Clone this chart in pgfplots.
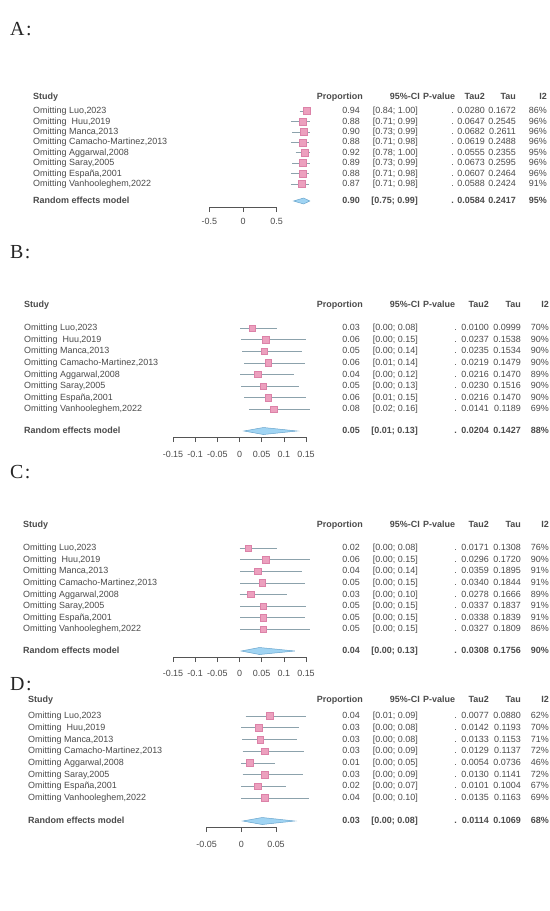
\documentclass[border=0pt]{standalone}
\usepackage{pgfplots}
\pgfplotsset{compat=1.18}
\usepackage{fontspec}
\setmainfont{Liberation Sans}
\newfontfamily\seriffont{Liberation Serif}
\definecolor{txt}{RGB}{75,75,75}
\definecolor{sqc}{RGB}{236,160,190}
\definecolor{sqd}{RGB}{220,130,168}
\definecolor{cic}{RGB}{140,162,172}
\definecolor{diaf}{RGB}{160,212,243}
\definecolor{diad}{RGB}{105,165,205}
\definecolor{axc}{RGB}{85,85,85}
\newcommand\tf{\fontsize{9.0}{10}\selectfont}
\def\nX{24}\def\dX{457}\def\tA{489}\def\tB{521}\def\tC{549}
\newcommand\rw[7]{%
 \node[anchor=mid west] at (\nX bp,-#1bp) {#2};
 \node[anchor=mid east] at (360bp,-#1bp) {#3};
 \node[anchor=mid east] at (418bp,-#1bp) {#4};
 \node[anchor=mid east] at (\dX bp,-#1bp) {.};
 \node[anchor=mid east] at (\tA bp,-#1bp) {#5};
 \node[anchor=mid east] at (\tB bp,-#1bp) {#6};
 \node[anchor=mid east] at (\tC bp,-#1bp) {#7\%};}
\newcommand\hd[1]{%
 \node[anchor=mid west] at (\nX bp,-#1bp) {\bfseries Study};
 \node[anchor=mid east] at (363bp,-#1bp) {\bfseries Proportion};
 \node[anchor=mid east] at (420bp,-#1bp) {\bfseries 95\%-CI};
 \node[anchor=mid west] at (423bp,-#1bp) {\bfseries P-value};
 \node[anchor=mid east] at (\tA bp,-#1bp) {\bfseries Tau2};
 \node[anchor=mid east] at (\tB bp,-#1bp) {\bfseries Tau};
 \node[anchor=mid east] at (\tC bp,-#1bp) {\bfseries I2};}
\newcommand\lab[2]{\node[anchor=mid west, font=\seriffont\fontsize{20}{20}\selectfont, text=black!85] at (10bp,-#1bp) {#2\hspace{1.5bp}:};}
\newcommand\ci[3]{\addplot[cic, line width=0.6pt] coordinates {(#2,#1) (#3,#1)};}
\newcommand\tl[3]{\node[anchor=mid] at (axis cs:#1,#2) {#3};}
\pgfplotsset{fp/.style={scale only axis, anchor=south west, clip=false, hide y axis,
  axis x line*=bottom, tick align=outside, major tick length=5bp, xticklabels={},
  scaled ticks=false,
  axis line style={axc, line width=0.6pt}, tick style={axc, line width=0.6pt}},
  sq/.style={only marks, mark=square*, mark size=#1, mark options={fill=sqc, draw=sqd, line width=0.3pt}},
  dm/.style={fill=diaf, draw=diad, line width=0.5pt}}
\begin{document}
\begin{tikzpicture}
\useasboundingbox (0,0) rectangle (550bp,-911bp);
\fill[white] (0,0) rectangle (550bp,-911bp);
\begin{scope}[every node/.style={inner sep=0pt, font=\tf, text=txt}]
% ---------------- Panel A ----------------
\lab{33}{A}
\def\nX{33}\def\dX{454}\def\tA{485}\def\tB{516}\def\tC{547}
\hd{97}
\rw{111}{Omitting Luo,2023}{0.94}{[0.84; 1.00]}{0.0280}{0.1672}{86}
\rw{121.4}{Omitting~ Huu,2019}{0.88}{[0.71; 0.99]}{0.0647}{0.2545}{96}
\rw{131.8}{Omitting Manca,2013}{0.90}{[0.73; 0.99]}{0.0682}{0.2611}{96}
\rw{142.2}{Omitting Camacho-Martinez,2013}{0.88}{[0.71; 0.98]}{0.0619}{0.2488}{96}
\rw{152.6}{Omitting Aggarwal,2008}{0.92}{[0.78; 1.00]}{0.0555}{0.2355}{95}
\rw{163}{Omitting Saray,2005}{0.89}{[0.73; 0.99]}{0.0673}{0.2595}{96}
\rw{173.4}{Omitting España,2001}{0.88}{[0.71; 0.98]}{0.0607}{0.2464}{96}
\rw{183.8}{Omitting Vanhooleghem,2022}{0.87}{[0.71; 0.98]}{0.0588}{0.2424}{91}
\begingroup\bfseries\rw{201}{Random effects model}{0.90}{[0.75; 0.99]}{0.0584}{0.2417}{95}\endgroup
\begin{axis}[fp, at={(209.3bp,-207bp)}, width=67.4bp, height=110bp,
  xmin=-0.5, xmax=0.5, ymin=-207, ymax=-97, xtick={-0.5,0,0.5}]
\ci{-111}{0.84}{1.00}
\ci{-121.4}{0.71}{0.99}
\ci{-131.8}{0.73}{0.99}
\ci{-142.2}{0.71}{0.98}
\ci{-152.6}{0.78}{1.00}
\ci{-163}{0.73}{0.99}
\ci{-173.4}{0.71}{0.98}
\ci{-183.8}{0.71}{0.98}
\addplot[sq=3.5bp] coordinates {(0.94,-111) (0.88,-121.4) (0.90,-131.8) (0.88,-142.2) (0.92,-152.6) (0.89,-163) (0.88,-173.4) (0.87,-183.8)};
\addplot[dm] coordinates {(0.75,-201) (0.90,-198) (0.99,-201) (0.90,-204)} -- cycle;
\tl{-0.5}{-222}{-0.5}\tl{0}{-222}{0}\tl{0.5}{-222}{0.5}
\end{axis}
% ---------------- Panel B ----------------
\lab{256}{B}
\def\nX{24}\def\dX{457}\def\tA{489}\def\tB{521}\def\tC{549}
\hd{305}
\rw{328}{Omitting Luo,2023}{0.03}{[0.00; 0.08]}{0.0100}{0.0999}{70}
\rw{339.6}{Omitting~ Huu,2019}{0.06}{[0.00; 0.15]}{0.0237}{0.1538}{90}
\rw{351.2}{Omitting Manca,2013}{0.05}{[0.00; 0.14]}{0.0235}{0.1534}{90}
\rw{362.8}{Omitting Camacho-Martinez,2013}{0.06}{[0.01; 0.14]}{0.0219}{0.1479}{90}
\rw{374.4}{Omitting Aggarwal,2008}{0.04}{[0.00; 0.12]}{0.0216}{0.1470}{89}
\rw{386}{Omitting Saray,2005}{0.05}{[0.00; 0.13]}{0.0230}{0.1516}{90}
\rw{397.6}{Omitting España,2001}{0.06}{[0.01; 0.15]}{0.0216}{0.1470}{90}
\rw{409.2}{Omitting Vanhooleghem,2022}{0.08}{[0.02; 0.16]}{0.0141}{0.1189}{69}
\begingroup\bfseries\rw{431}{Random effects model}{0.05}{[0.01; 0.13]}{0.0204}{0.1427}{88}\endgroup
\begin{axis}[fp, at={(173bp,-437bp)}, width=133bp, height=132bp,
  xmin=-0.15, xmax=0.15, ymin=-437, ymax=-305, xtick={-0.15,-0.1,-0.05,0,0.05,0.1,0.15}]
\ci{-328}{0.002}{0.084}
\ci{-339.6}{0.004}{0.149}
\ci{-351.2}{0.006}{0.141}
\ci{-362.8}{0.011}{0.147}
\ci{-374.4}{0.002}{0.122}
\ci{-386}{0.004}{0.134}
\ci{-397.6}{0.011}{0.149}
\ci{-409.2}{0.021}{0.159}
\addplot[sq=3.2bp] coordinates {(0.029,-328) (0.059,-339.6) (0.055,-351.2) (0.064,-362.8) (0.041,-374.4) (0.053,-386) (0.064,-397.6) (0.077,-409.2)};
\addplot[dm] coordinates {(0.01,-431) (0.054,-427.5) (0.13,-431) (0.054,-434.5)} -- cycle;
\tl{-0.15}{-455}{-0.15}\tl{-0.1}{-455}{-0.1}\tl{-0.05}{-455}{-0.05}\tl{0}{-455}{0}
\tl{0.05}{-455}{0.05}\tl{0.1}{-455}{0.1}\tl{0.15}{-455}{0.15}
\end{axis}
% ---------------- Panel C ----------------
\lab{476}{C}
\def\nX{23}
\hd{525}
\rw{548}{Omitting Luo,2023}{0.02}{[0.00; 0.08]}{0.0171}{0.1308}{76}
\rw{559.6}{Omitting~ Huu,2019}{0.06}{[0.00; 0.15]}{0.0296}{0.1720}{90}
\rw{571.2}{Omitting Manca,2013}{0.04}{[0.00; 0.14]}{0.0359}{0.1895}{91}
\rw{582.8}{Omitting Camacho-Martinez,2013}{0.05}{[0.00; 0.15]}{0.0340}{0.1844}{91}
\rw{594.4}{Omitting Aggarwal,2008}{0.03}{[0.00; 0.10]}{0.0278}{0.1666}{89}
\rw{606}{Omitting Saray,2005}{0.05}{[0.00; 0.15]}{0.0337}{0.1837}{91}
\rw{617.6}{Omitting España,2001}{0.05}{[0.00; 0.15]}{0.0338}{0.1839}{91}
\rw{629.2}{Omitting Vanhooleghem,2022}{0.05}{[0.00; 0.15]}{0.0327}{0.1809}{86}
\begingroup\bfseries\rw{651}{Random effects model}{0.04}{[0.00; 0.13]}{0.0308}{0.1756}{90}\endgroup
\begin{axis}[fp, at={(173bp,-657bp)}, width=133bp, height=132bp,
  xmin=-0.15, xmax=0.15, ymin=-657, ymax=-525, xtick={-0.15,-0.1,-0.05,0,0.05,0.1,0.15}]
\ci{-548}{0.000}{0.084}
\ci{-559.6}{0.002}{0.159}
\ci{-571.2}{0.002}{0.141}
\ci{-582.8}{0.002}{0.148}
\ci{-594.4}{0.000}{0.108}
\ci{-606}{0.002}{0.150}
\ci{-617.6}{0.002}{0.148}
\ci{-629.2}{0.002}{0.159}
\addplot[sq=3.2bp] coordinates {(0.019,-548) (0.059,-559.6) (0.041,-571.2) (0.051,-582.8) (0.025,-594.4) (0.053,-606) (0.053,-617.6) (0.053,-629.2)};
\addplot[dm] coordinates {(0.004,-651) (0.045,-647.5) (0.125,-651) (0.045,-654.5)} -- cycle;
\tl{-0.15}{-674}{-0.15}\tl{-0.1}{-674}{-0.1}\tl{-0.05}{-674}{-0.05}\tl{0}{-674}{0}
\tl{0.05}{-674}{0.05}\tl{0.1}{-674}{0.1}\tl{0.15}{-674}{0.15}
\end{axis}
% ---------------- Panel D ----------------
\lab{688}{D}
\def\nX{28}
\hd{700}
\rw{716}{Omitting Luo,2023}{0.04}{[0.01; 0.09]}{0.0077}{0.0880}{62}
\rw{727.7}{Omitting~ Huu,2019}{0.03}{[0.00; 0.08]}{0.0142}{0.1193}{70}
\rw{739.4}{Omitting Manca,2013}{0.03}{[0.00; 0.08]}{0.0133}{0.1153}{71}
\rw{751.1}{Omitting Camacho-Martinez,2013}{0.03}{[0.00; 0.09]}{0.0129}{0.1137}{72}
\rw{762.8}{Omitting Aggarwal,2008}{0.01}{[0.00; 0.05]}{0.0054}{0.0736}{46}
\rw{774.5}{Omitting Saray,2005}{0.03}{[0.00; 0.09]}{0.0130}{0.1141}{72}
\rw{786.2}{Omitting España,2001}{0.02}{[0.00; 0.07]}{0.0101}{0.1004}{67}
\rw{797.9}{Omitting Vanhooleghem,2022}{0.04}{[0.00; 0.10]}{0.0135}{0.1163}{69}
\begingroup\bfseries\rw{821}{Random effects model}{0.03}{[0.00; 0.08]}{0.0114}{0.1069}{68}\endgroup
\begin{axis}[fp, at={(206.7bp,-827bp)}, width=69.3bp, height=127bp,
  xmin=-0.05, xmax=0.05, ymin=-827, ymax=-700, xtick={-0.05,0,0.05}]
\ci{-716}{0.006}{0.094}
\ci{-727.7}{0.000}{0.083}
\ci{-739.4}{0.001}{0.081}
\ci{-751.1}{0.002}{0.090}
\ci{-762.8}{0.000}{0.048}
\ci{-774.5}{0.002}{0.089}
\ci{-786.2}{0.000}{0.065}
\ci{-797.9}{0.000}{0.098}
\addplot[sq=3.4bp] coordinates {(0.041,-716) (0.025,-727.7) (0.027,-739.4) (0.034,-751.1) (0.012,-762.8) (0.034,-774.5) (0.023,-786.2) (0.034,-797.9)};
\addplot[dm] coordinates {(0.002,-821) (0.03,-817.5) (0.077,-821) (0.03,-824.5)} -- cycle;
\tl{-0.05}{-845}{-0.05}\tl{0}{-845}{0}\tl{0.05}{-845}{0.05}
\end{axis}
\end{scope}
\end{tikzpicture}
\end{document}
